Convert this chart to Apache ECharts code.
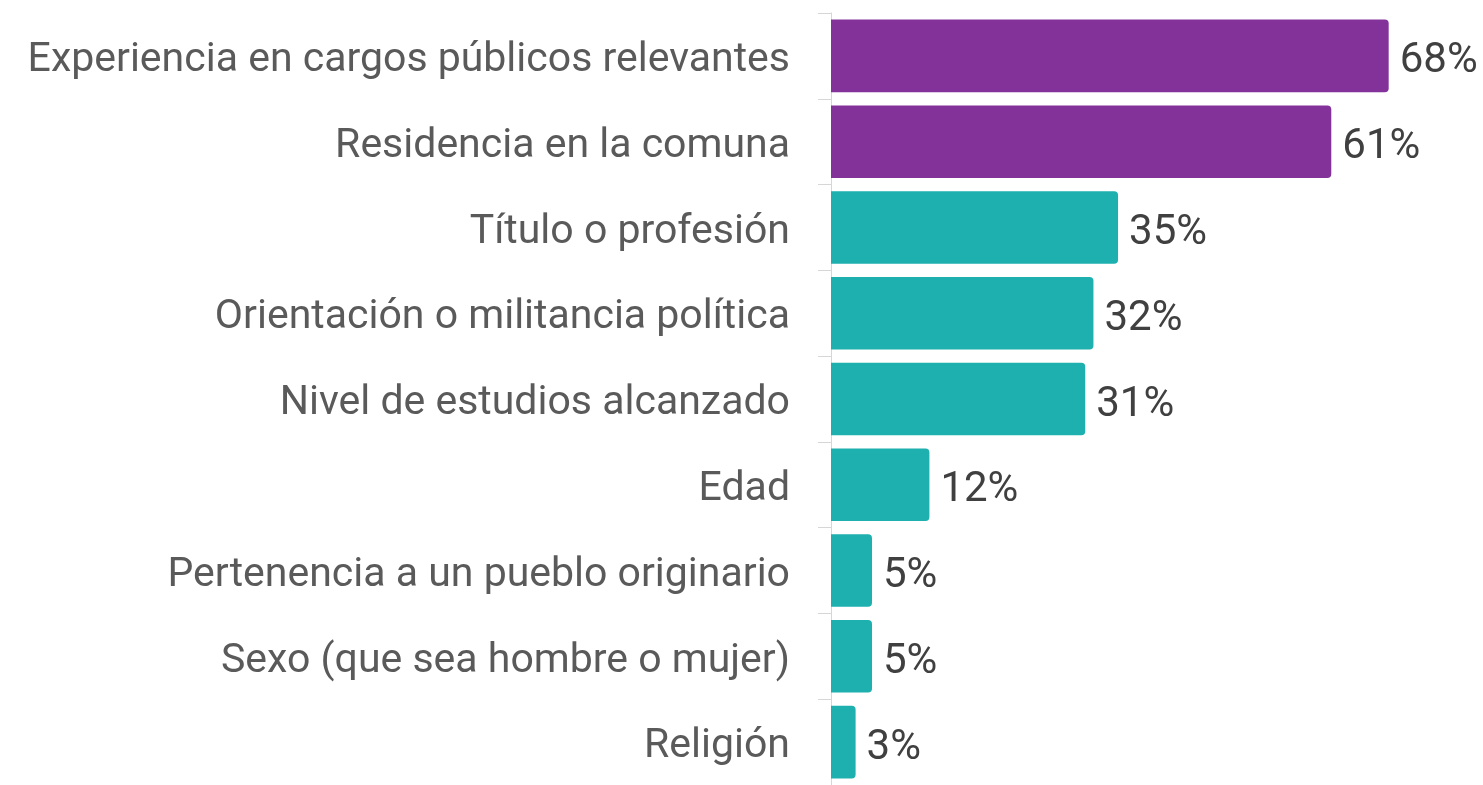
<!DOCTYPE html>
<html><head><meta charset="utf-8">
<script src="https://cdn.jsdelivr.net/npm/echarts@6/dist/echarts.min.js"></script>
<style>html,body{margin:0;padding:0;background:#fff}#c{width:1483px;height:785px}</style>
</head><body><div id="c"></div>
<script>
const categories = [
  'Experiencia en cargos públicos relevantes',
  'Residencia en la comuna',
  'Título o profesión',
  'Orientación o militancia política',
  'Nivel de estudios alcanzado',
  'Edad',
  'Pertenencia a un pueblo originario',
  'Sexo (que sea hombre o mujer)',
  'Religión'
];
const values = [68, 61, 35, 32, 31, 12, 5, 5, 3];
const highlightCount = 2;
const purple = '#83329a';
const teal = '#1eb0ae';

const chart = echarts.init(document.getElementById('c'), null, {renderer: 'canvas'});
chart.setOption({
  animation: false,
  grid: {left: 831, top: 13, right: 0, height: 777},
  xAxis: {type: 'value', min: 0, max: 79.5, show: false},
  yAxis: {
    type: 'category', data: categories, inverse: true,
    axisLine: {show: true, lineStyle: {color: '#d6d6d6', width: 1}},
    axisTick: {show: true, length: 13, lineStyle: {color: '#d6d6d6', width: 1}},
    axisLabel: {margin: 41, fontFamily: 'Roboto', fontSize: 41, color: '#5a5a5a',
                verticalAlign: 'top', lineHeight: 10}
  },
  series: [{
    type: 'bar',
    data: values.map((v, i) => ({value: v, itemStyle: {color: i < highlightCount ? purple : teal}})),
    barCategoryGap: '15.4%',
    itemStyle: {borderRadius: [0, 4, 4, 0]},
    label: {show: true, position: 'right', distance: 11, formatter: p => p.value + '%',
            fontFamily: 'Roboto', fontSize: 42, color: '#404040',
            verticalAlign: 'top', lineHeight: 12}
  }]
});
</script></body></html>
